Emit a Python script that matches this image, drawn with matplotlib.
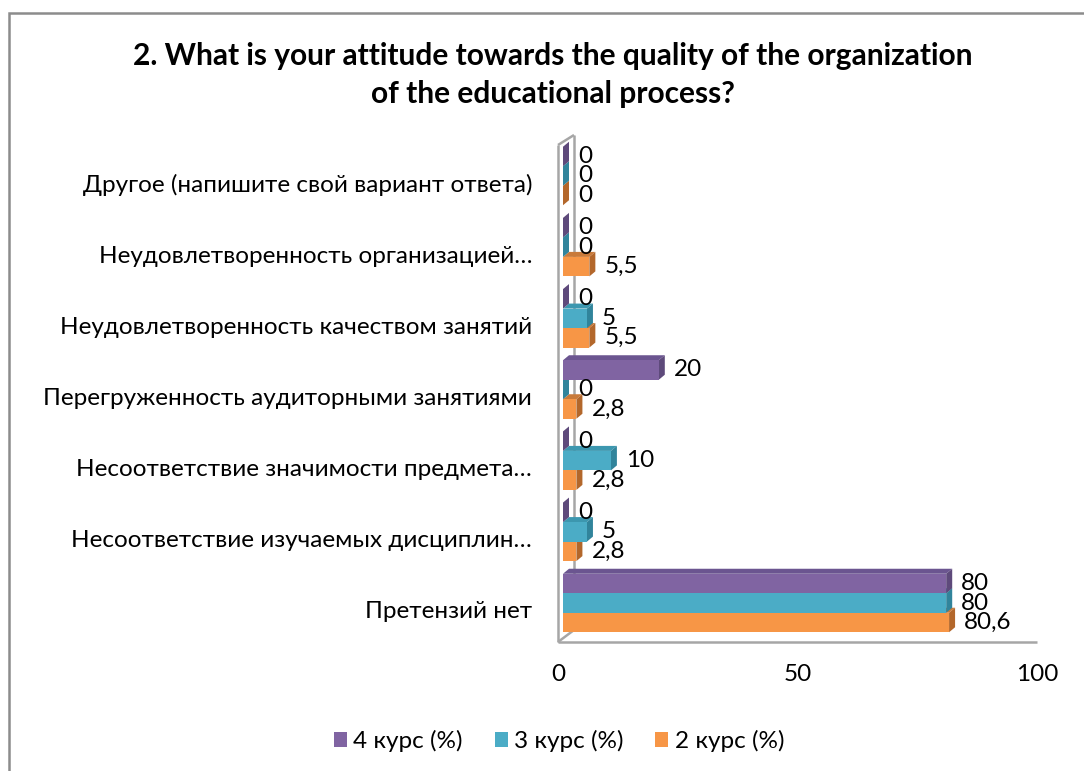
import matplotlib
matplotlib.use("Agg")
import matplotlib.pyplot as plt
import matplotlib.transforms as mtransforms
from matplotlib.patches import Polygon, Rectangle, Patch
from matplotlib.lines import Line2D

plt.rcParams['font.family'] = ['Lato', 'DejaVu Sans']

# ---------------- data ----------------
categories = [
    "Претензий нет",
    "Несоответствие изучаемых дисциплин…",
    "Несоответствие значимости предмета…",
    "Перегруженность аудиторными занятиями",
    "Неудовлетворенность качеством занятий",
    "Неудовлетворенность организацией…",
    "Другое (напишите свой вариант ответа)",
]
series_names = ["4 курс (%)", "3 курс (%)", "2 курс (%)"]
kurs4 = [80, 0, 0, 20, 0, 0, 0]
kurs3 = [80, 5, 10, 0, 5, 0, 0]
kurs2 = [80.6, 2.8, 2.8, 2.8, 5.5, 5.5, 0]
xticks = [0, 50, 100]
title = "2. What is your attitude towards the quality of the organization\nof the educational process?"

front_colors = ["#8064A2", "#4BACC6", "#F79646"]
side_colors = ["#5E4A7B", "#31849B", "#B3672B"]
top_colors = ["#6B5590", "#3C97AF", "#C97A3A"]

FS = 17.5
W, H = 1084, 771
DPI = 100
fig = plt.figure(figsize=(W / DPI, H / DPI), dpi=DPI)

# axes geometry in pixels
ax_l, ax_r = 558, 1037
ax_top, ax_bot = 135, 642
ax = fig.add_axes([ax_l / W, 1 - ax_bot / H, (ax_r - ax_l) / W, (ax_bot - ax_top) / H])
ax.set_xlim(0, 100)
spacing_px = 71.17
y0_px = 603.0  # pixel row of bottom group centre
ax.set_ylim((y0_px - ax_bot) / spacing_px, (y0_px - ax_top) / spacing_px)
for s in ax.spines.values():
    s.set_visible(False)
ax.patch.set_alpha(0)

# border of the whole chart
fig.patches.append(Rectangle((9 / W, -0.05), 1.2, (H - 13) / H + 0.05, transform=fig.transFigure,
                             fill=False, edgecolor="#8C8C8C", linewidth=1.8, zorder=0))

# 3D wall / floor outlines
wall = "#A6A6A6"
dxw = 16 / (ax_r - ax_l)
axh = ax_bot - ax_top
lines = [
    ([0, 1], [0, 0]),
    ([0, 0], [0, (ax_bot - 145) / axh]),
    ([dxw, dxw], [12 / axh, 1.0]),
    ([0, dxw], [(ax_bot - 145) / axh, 1.0]),
    ([0, dxw], [0, 12 / axh]),
]
for xs, ys in lines:
    ax.add_line(Line2D(xs, ys, transform=ax.transAxes, color=wall, lw=1.8, zorder=1,
                       clip_on=False, solid_capstyle='butt'))

# bars with fake depth
bar_h = 19.5 / spacing_px
px_per_x = (ax_r - ax_l) / 100.0
dx = 6 / px_per_x        # depth in data x
dy = 5 / spacing_px      # depth in data y
shift = mtransforms.offset_copy(ax.transData, fig=fig, x=5, y=0, units='dots')
lab_tr = mtransforms.offset_copy(ax.transData, fig=fig, x=20, y=0, units='dots')

def fmt(v):
    s = ("%g" % v)
    return s.replace(".", ",")

series = [kurs4, kurs3, kurs2]
offsets = [bar_h, 0.0, -bar_h]
order = [2, 1, 0]  # draw bottom bar first
for si in order:
    vals = series[si]
    for k, v in enumerate(vals):
        yc = k + offsets[si]
        yb, yt = yc - bar_h / 2, yc + bar_h / 2
        z = 3 + (2 - si)
        top = Polygon([(0, yt), (v, yt), (v + dx, yt + dy), (dx, yt + dy)], closed=True,
                      facecolor=top_colors[si], edgecolor='none', transform=shift, zorder=z)
        side = Polygon([(v, yb), (v, yt), (v + dx, yt + dy), (v + dx, yb + dy)], closed=True,
                       facecolor=side_colors[si], edgecolor='none', transform=shift, zorder=z)
        front = Rectangle((0, yb), v, bar_h, facecolor=front_colors[si], edgecolor='none',
                          transform=shift, zorder=z)
        ax.add_patch(top)
        ax.add_patch(side)
        ax.add_patch(front)
        ax.text(v, yc, fmt(v), transform=lab_tr, ha='left', va='center',
                fontsize=FS, color='black', zorder=10)

# axis ticks
ax.set_xticks(xticks)
ax.set_xticklabels([str(t) for t in xticks], fontsize=FS)
ax.tick_params(axis='x', length=0, pad=16)
ax.set_yticks(range(len(categories)))
ax.set_yticklabels(categories, fontsize=FS)
ax.tick_params(axis='y', length=0, pad=18.7)
for lab in ax.get_yticklabels():
    lab.set_transform(lab.get_transform() + mtransforms.ScaledTranslation(0, -7 / DPI, fig.dpi_scale_trans))

fig.text(553 / W, 1 - 75 / H, title, ha='center', va='center', fontsize=21.5,
         fontweight='bold', linespacing=1.45)

handles = [Patch(facecolor=c, edgecolor='none') for c in front_colors]
fig.legend(handles, series_names, loc='center', bbox_to_anchor=(559 / W, 1 - 741 / H),
           ncol=3, frameon=False, fontsize=FS, handlelength=0.55, handleheight=0.55,
           handletextpad=0.25, columnspacing=1.3)

fig.savefig("out.png", dpi=DPI)
